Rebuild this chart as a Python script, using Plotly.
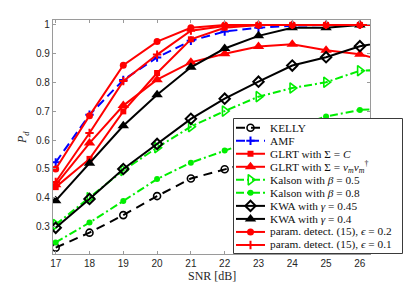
import plotly.graph_objects as go

# ---------------- data ----------------
snr = [17, 18, 19, 20, 21, 22, 23, 24, 25, 26, 27]

kelly      = [0.227, 0.279, 0.340, 0.406, 0.467, 0.499, 0.530, 0.560, 0.585, 0.610, 0.630]
amf        = [0.523, 0.688, 0.809, 0.887, 0.945, 0.977, 0.990, 0.997, 1.000, 1.000, 1.000]
glrt_c     = [0.437, 0.535, 0.700, 0.833, 0.950, 0.990, 1.000, 1.000, 1.000, 1.000, 1.000]
glrt_vm    = [0.445, 0.590, 0.720, 0.810, 0.870, 0.900, 0.925, 0.933, 0.912, 0.898, 0.866]
kalson_05  = [0.307, 0.400, 0.495, 0.574, 0.647, 0.701, 0.751, 0.781, 0.801, 0.841, 0.845]
kalson_08  = [0.245, 0.314, 0.389, 0.465, 0.522, 0.564, 0.605, 0.645, 0.682, 0.705, 0.710]
kwa_045    = [0.296, 0.396, 0.500, 0.587, 0.674, 0.744, 0.803, 0.859, 0.888, 0.926, 0.945]
kwa_04     = [0.390, 0.520, 0.650, 0.758, 0.853, 0.918, 0.962, 0.990, 0.990, 1.000, 1.000]
param_02   = [0.500, 0.685, 0.860, 0.942, 0.990, 1.000, 1.000, 1.000, 1.000, 1.000, 1.000]
param_01   = [0.455, 0.625, 0.805, 0.897, 0.980, 0.996, 1.000, 1.000, 1.000, 1.000, 1.000]

x_ticks = [17, 18, 19, 20, 21, 22, 23, 24, 25, 26]
y_ticks = [0.3, 0.4, 0.5, 0.6, 0.7, 0.8, 0.9, 1.0]
y_tick_labels = ["0.3", "0.4", "0.5", "0.6", "0.7", "0.8", "0.9", "1"]

names = [
    "KELLY",
    "AMF",
    "GLRT with Σ = <i>C</i>",
    "GLRT with Σ = <i>v</i><sub><i>m</i></sub><i>v</i><sub><i>m</i></sub><sup>†</sup>",
    "Kalson with <i>β</i> = 0.5",
    "Kalson with <i>β</i> = 0.8",
    "KWA with <i>γ</i> = 0.45",
    "KWA with <i>γ</i> = 0.4",
    "param. detect. (15), <i>ϵ</i> = 0.2",
    "param. detect. (15), <i>ϵ</i> = 0.1",
]
series = [kelly, amf, glrt_c, glrt_vm, kalson_05, kalson_08, kwa_045, kwa_04, param_02, param_01]

# ---------------- styles ----------------
RED, BLUE, GREEN, BLACK = "#ff0000", "#0000ff", "#00ee00", "#000000"
styles = [
    dict(color=BLACK, dash="9px,6px", symbol="circle-open", size=7, mlw=1.6),
    dict(color=BLUE, dash="9px,5px", symbol="cross-thin", size=6, mlw=2),
    dict(color=RED, dash="solid", symbol="square", size=6, mlw=0),
    dict(color=RED, dash="solid", symbol="triangle-up", size=10, mlw=0),
    dict(color=GREEN, dash="8px,3px,2px,3px", symbol="triangle-right-open", size=9, mlw=1.6),
    dict(color=GREEN, dash="8px,3px,2px,3px", symbol="circle", size=6, mlw=0),
    dict(color=BLACK, dash="solid", symbol="diamond-open", size=8, mlw=2),
    dict(color=BLACK, dash="solid", symbol="triangle-up", size=10, mlw=0),
    dict(color=RED, dash="solid", symbol="circle", size=7, mlw=0),
    dict(color=RED, dash="solid", symbol="cross-thin", size=6, mlw=2),
]
LW = 2

fig = go.Figure()
for name, ys, st in zip(names, series, styles):
    fig.add_trace(go.Scatter(
        x=snr, y=ys, mode="lines+markers", name=name, showlegend=False,
        line=dict(color=st["color"], width=LW, dash=st["dash"]),
        marker=dict(symbol=st["symbol"], size=st["size"], color=st["color"],
                    line=dict(color=st["color"], width=st["mlw"])),
        xaxis="x", yaxis="y", hoverinfo="skip",
    ))

# ---------------- custom legend (drawn on an overlay axis) ----------------
W, H = 409, 285
ML, MR, MT, MB = 53, 6, 20, 31
pw, ph = W - ML - MR, H - MT - MB
main_right = 370
leg_left, leg_top = 233, 118
leg_w, leg_h = W - MR - leg_left, (H - MB) - leg_top
row0, row_step = 9.7, 13.03
gx0, gx1, tx = 3, 32, 35

for i, (name, st) in enumerate(zip(names, styles)):
    yy = row0 + row_step * i
    fig.add_trace(go.Scatter(
        x=[gx0, (gx0 + gx1) / 2, gx1], y=[yy, yy, yy], mode="lines+markers",
        showlegend=False, hoverinfo="skip", xaxis="x2", yaxis="y2",
        line=dict(color=st["color"], width=LW, dash=st["dash"]),
        marker=dict(symbol=st["symbol"], size=st["size"], color=st["color"], opacity=[0, 1, 0],
                    line=dict(color=st["color"], width=st["mlw"])),
    ))
    fig.add_annotation(x=tx, y=yy, xref="x2", yref="y2", text=name, showarrow=False,
                       xanchor="left", yanchor="middle",
                       font=dict(family="Liberation Serif", size=11.3, color="#111111"))

fig.add_shape(type="rect", xref="x2", yref="y2", x0=0.5, x1=leg_w - 0.5, y0=0.5, y1=leg_h - 0.5,
              line=dict(color="#3a3a3a", width=1), fillcolor="white", layer="below")

axis_col = "#9a9a9a"
fig.update_layout(
    width=W, height=H, margin=dict(l=ML, r=MR, t=MT, b=MB),
    paper_bgcolor="white", plot_bgcolor="white", hovermode=False,
    xaxis=dict(domain=[0, (main_right - ML) / pw], range=[16.92, 26.3],
               tickvals=x_ticks, ticks="inside", ticklen=3, tickcolor=axis_col,
               showline=True, linecolor=axis_col, linewidth=1.3, mirror="ticks",
               showgrid=False, zeroline=False,
               tickfont=dict(family="Liberation Sans", size=10, color="#262626")),
    yaxis=dict(domain=[0, 1], range=[0.205, 1.017],
               tickvals=y_ticks, ticktext=y_tick_labels, ticks="inside", ticklen=3, tickcolor=axis_col,
               showline=True, linecolor=axis_col, linewidth=1.3, mirror="ticks",
               showgrid=False, zeroline=False,
               tickfont=dict(family="Liberation Sans", size=10, color="#262626")),
    xaxis2=dict(domain=[(leg_left - ML) / pw, 1], range=[0, leg_w], visible=False, anchor="y2"),
    yaxis2=dict(domain=[0, leg_h / ph], range=[leg_h, 0], visible=False, anchor="x2"),
)

fig.add_annotation(xref="paper", yref="paper", x=((main_right + ML) / 2 - ML) / pw, y=-(276 - (H - MB)) / ph,
                   text="SNR [dB]", showarrow=False, xanchor="center", yanchor="middle",
                   font=dict(family="Liberation Serif", size=12, color="#262626"))
fig.add_annotation(xref="paper", yref="paper", x=-(ML - 23) / pw, y=((H - MB) - 138) / ph,
                   text="<i>P</i><sub><i>d</i></sub>", showarrow=False, textangle=-90,
                   xanchor="center", yanchor="middle",
                   font=dict(family="Liberation Serif", size=12, color="#262626"))

fig.write_html("out.html", config={"displayModeBar": False},
               post_script="document.body.style.margin='0';document.body.style.overflow='hidden';")
